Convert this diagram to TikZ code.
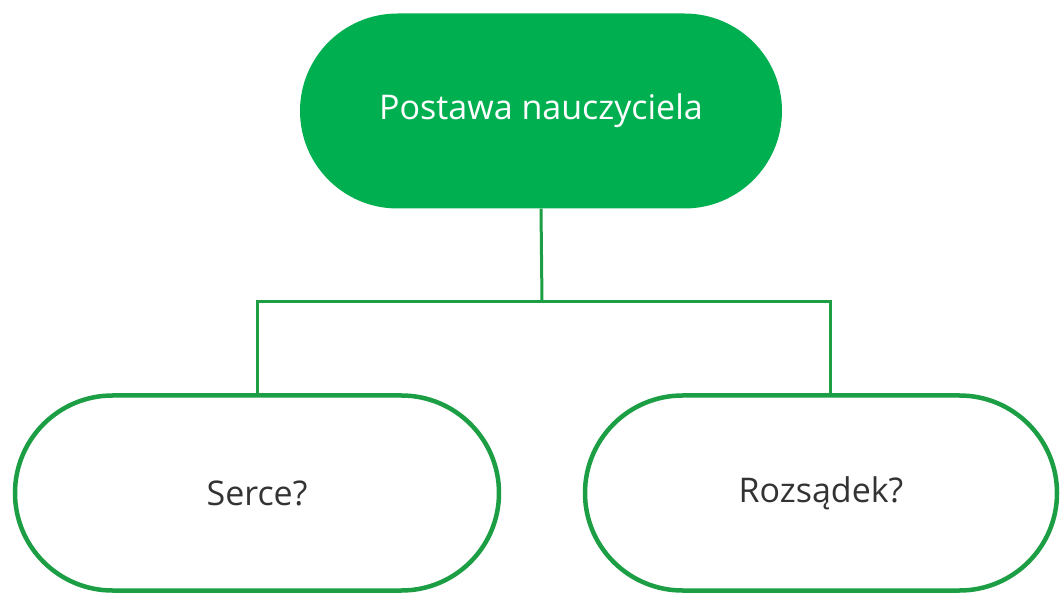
\documentclass[tikz,border=0pt]{standalone}
\usepackage{fontspec}
\setmainfont{Open Sans}
\usetikzlibrary{shapes.misc}

\definecolor{pillgreen}{RGB}{0,176,80}
\definecolor{edgegreen}{RGB}{28,158,68}
\definecolor{textgray}{RGB}{51,51,51}

\tikzset{
  pill/.style={rounded rectangle, inner sep=0pt, minimum height=195pt,
    font=\fontsize{34}{40}\selectfont},
  topbox/.style={pill, fill=pillgreen, draw=none, text=white},
  answerbox/.style={pill, fill=white, draw=edgegreen, line width=4.5pt, text=textgray},
  link/.style={draw=edgegreen, line width=3pt}
}

\begin{document}
\begin{tikzpicture}[x=1pt,y=-1pt]
          \useasboundingbox (0,0) rectangle (1061,612);
          \node[topbox, minimum width=482pt] (postawa) at (541,111) {Postawa nauczyciela};
          \node[answerbox, minimum width=484pt] (serce) at (257,493) {Serce?};
          \node[answerbox, minimum width=472pt] (rozsadek) at (821,493) {Rozsądek?};
          \coordinate (fork) at (542,302);
          % connectors
          \draw[link] (postawa.south) -- (fork);
          \draw[link] (serce.north) |- (fork) -| ([xshift=9pt]rozsadek.north);
        \end{tikzpicture}
\end{document}
